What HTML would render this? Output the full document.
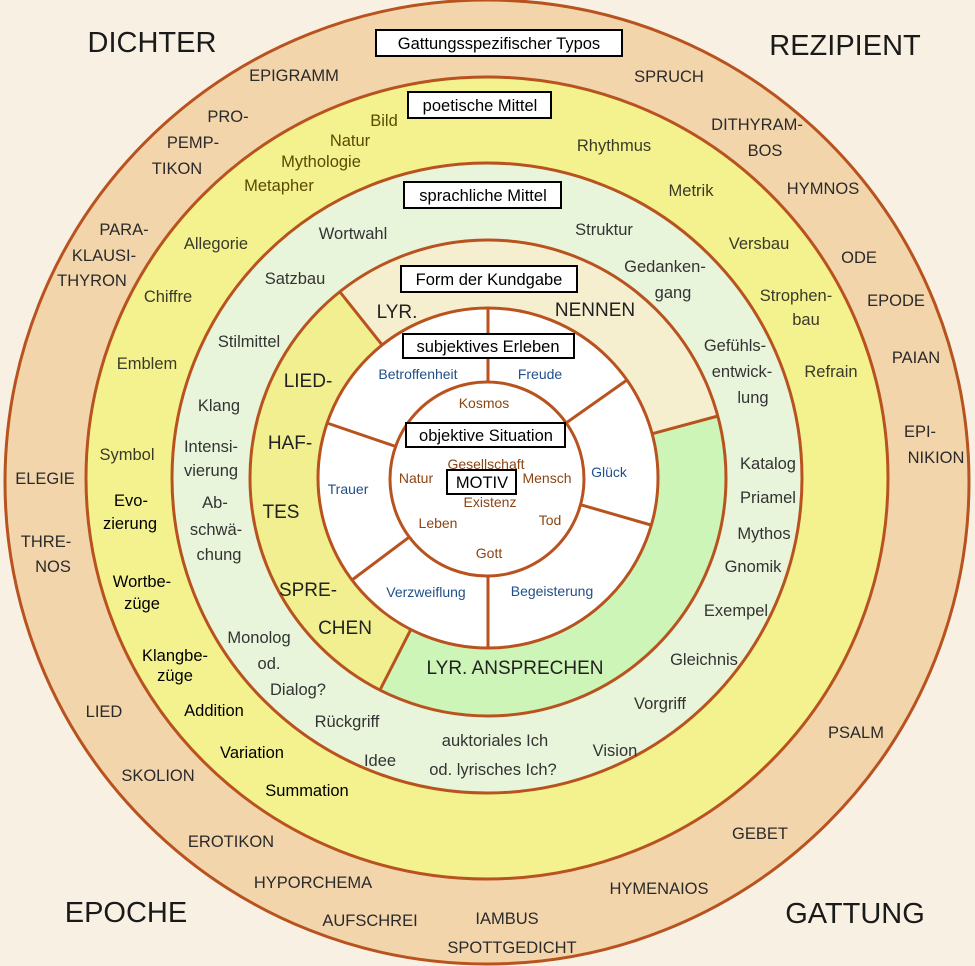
<!DOCTYPE html>
<html><head><meta charset="utf-8"><style>
html,body{margin:0;padding:0;background:#f7f0e3}
svg{display:block}
text{font-family:"Liberation Sans",sans-serif;text-anchor:middle}
.o{font-size:16.5px;fill:#2a2a2a}
.c{font-size:29px;fill:#1a1a1a}
.y{font-size:16.5px;fill:#3a3a2a}
.ol{font-size:16.5px;fill:#5a4a00}
.b{font-size:16.5px;fill:#000}
.g{font-size:16.5px;fill:#333}
.f{font-size:19px;fill:#222}
.bl{font-size:14px;fill:#1f4f8a}
.br{font-size:14px;fill:#8b4513}
.lb{font-size:16.5px;fill:#000}
</style></head><body>
<svg width="975" height="966" viewBox="0 0 975 966" xmlns="http://www.w3.org/2000/svg">
<rect width="975" height="966" fill="#f7f0e3"/>
<circle cx="487" cy="482" r="482" fill="#f3d5ac" stroke="#b8531f" stroke-width="3"/>
<circle cx="487" cy="478" r="401" fill="#f4f28e" stroke="#b8531f" stroke-width="3"/>
<circle cx="487" cy="478" r="315" fill="#e9f5da" stroke="#b8531f" stroke-width="3"/>
<path d="M488 478 L718 416 A238 238 0 0 0 340 292 Z" fill="#f6efcf"/>
<path d="M488 478 L340 292 A238 238 0 0 0 380 690 Z" fill="#f2ef90"/>
<path d="M488 478 L380 690 A238 238 0 0 0 718 416 Z" fill="#cdf5b8"/>
<g stroke="#b8531f" stroke-width="3">
<line x1="488" y1="478" x2="718" y2="416"/><line x1="488" y1="478" x2="340" y2="292"/><line x1="488" y1="478" x2="380" y2="690"/>
</g>
<circle cx="488" cy="478" r="238" fill="none" stroke="#b8531f" stroke-width="3"/>
<circle cx="488" cy="478" r="170" fill="#fff" stroke="#b8531f" stroke-width="3"/>
<g stroke="#b8531f" stroke-width="3">
<line x1="488" y1="478" x2="488" y2="308"/><line x1="488" y1="478" x2="627" y2="380"/><line x1="488" y1="478" x2="651" y2="525"/>
<line x1="488" y1="478" x2="488" y2="648"/><line x1="488" y1="478" x2="352" y2="580"/><line x1="488" y1="478" x2="327" y2="423"/>
</g>
<circle cx="487" cy="479" r="97" fill="#fff" stroke="#b8531f" stroke-width="3"/>

<text class="c" x="152" y="52">DICHTER</text>
<text class="c" x="845" y="55">REZIPIENT</text>
<text class="c" x="126" y="922">EPOCHE</text>
<text class="c" x="855" y="923">GATTUNG</text>

<rect x="376" y="30" width="246" height="26" fill="#fff" stroke="#000" stroke-width="2"/>
<text class="lb" x="499" y="49">Gattungsspezifischer Typos</text>
<rect x="408" y="92" width="143" height="26" fill="#fff" stroke="#000" stroke-width="2"/>
<text class="lb" x="480" y="111">poetische Mittel</text>
<rect x="404" y="182" width="157" height="26" fill="#fff" stroke="#000" stroke-width="2"/>
<text class="lb" x="483" y="201">sprachliche Mittel</text>
<rect x="401" y="266" width="176" height="26" fill="#fff" stroke="#000" stroke-width="2"/>
<text class="lb" x="489" y="285">Form der Kundgabe</text>
<rect x="403" y="334" width="171" height="24" fill="#fff" stroke="#000" stroke-width="2"/>
<text class="lb" x="488" y="352">subjektives Erleben</text>
<rect x="406" y="423" width="159" height="24" fill="#fff" stroke="#000" stroke-width="2"/>
<text class="lb" x="486" y="441">objektive Situation</text>
<rect x="447" y="470" width="69" height="24" fill="#fff" stroke="#000" stroke-width="2"/>
<text class="lb" x="482" y="488">MOTIV</text>

<g class="o">
<text x="294" y="81">EPIGRAMM</text><text x="669" y="82">SPRUCH</text>
<text x="228" y="122">PRO-</text><text x="193" y="148">PEMP-</text><text x="177" y="174">TIKON</text>
<text x="757" y="130">DITHYRAM-</text><text x="765" y="156">BOS</text>
<text x="823" y="194">HYMNOS</text><text x="859" y="263">ODE</text><text x="896" y="306">EPODE</text>
<text x="916" y="363">PAIAN</text><text x="920" y="437">EPI-</text><text x="936" y="463">NIKION</text>
<text x="124" y="235">PARA-</text><text x="104" y="261">KLAUSI-</text><text x="92" y="286">THYRON</text>
<text x="45" y="484">ELEGIE</text><text x="46" y="547">THRE-</text><text x="53" y="572">NOS</text>
<text x="104" y="717">LIED</text><text x="158" y="781">SKOLION</text><text x="231" y="847">EROTIKON</text>
<text x="313" y="888">HYPORCHEMA</text><text x="370" y="926">AUFSCHREI</text><text x="507" y="924">IAMBUS</text>
<text x="512" y="953">SPOTTGEDICHT</text><text x="659" y="894">HYMENAIOS</text><text x="760" y="839">GEBET</text>
<text x="856" y="738">PSALM</text>
</g>
<g class="ol">
<text x="384" y="126">Bild</text><text x="350" y="146">Natur</text><text x="321" y="167">Mythologie</text><text x="279" y="191">Metapher</text>
</g>
<g class="y">
<text x="614" y="151">Rhythmus</text><text x="691" y="196">Metrik</text><text x="759" y="249">Versbau</text>
<text x="796" y="301">Strophen-</text><text x="806" y="325">bau</text><text x="831" y="377">Refrain</text>
<text x="216" y="249">Allegorie</text><text x="168" y="302">Chiffre</text><text x="147" y="369">Emblem</text><text x="127" y="460">Symbol</text>
</g>
<g class="b">
<text x="131" y="506">Evo-</text><text x="130" y="529">zierung</text>
<text x="142" y="587">Wortbe-</text><text x="142" y="609">züge</text>
<text x="175" y="661">Klangbe-</text><text x="175" y="681">züge</text>
<text x="214" y="716">Addition</text><text x="252" y="758">Variation</text><text x="307" y="796">Summation</text>
</g>
<g class="g">
<text x="353" y="239">Wortwahl</text><text x="604" y="235">Struktur</text>
<text x="665" y="272">Gedanken-</text><text x="673" y="298">gang</text>
<text x="295" y="284">Satzbau</text><text x="249" y="347">Stilmittel</text>
<text x="735" y="351">Gefühls-</text><text x="742" y="377">entwick-</text><text x="753" y="403">lung</text>
<text x="219" y="411">Klang</text><text x="211" y="452">Intensi-</text><text x="211" y="476">vierung</text>
<text x="215" y="508">Ab-</text><text x="216" y="535">schwä-</text><text x="219" y="560">chung</text>
<text x="768" y="469">Katalog</text><text x="768" y="503">Priamel</text><text x="764" y="539">Mythos</text>
<text x="753" y="572">Gnomik</text><text x="736" y="616">Exempel</text>
<text x="259" y="643">Monolog</text><text x="269" y="669">od.</text><text x="298" y="695">Dialog?</text>
<text x="704" y="665">Gleichnis</text><text x="660" y="709">Vorgriff</text>
<text x="347" y="727">Rückgriff</text><text x="380" y="766">Idee</text>
<text x="495" y="746">auktoriales Ich</text><text x="493" y="775">od. lyrisches Ich?</text>
<text x="615" y="756">Vision</text>
</g>
<g class="f">
<text x="397" y="318">LYR.</text><text x="595" y="316">NENNEN</text>
<text x="308" y="387">LIED-</text><text x="290" y="449">HAF-</text><text x="281" y="518">TES</text>
<text x="308" y="596">SPRE-</text><text x="345" y="634">CHEN</text>
<text x="515" y="674">LYR. ANSPRECHEN</text>
</g>
<g class="bl">
<text x="418" y="379">Betroffenheit</text><text x="540" y="379">Freude</text><text x="609" y="477">Glück</text>
<text x="348" y="494">Trauer</text><text x="426" y="597">Verzweiflung</text><text x="552" y="596">Begeisterung</text>
</g>
<g class="br">
<text x="484" y="408">Kosmos</text><text x="486" y="469">Gesellschaft</text><text x="416" y="483">Natur</text>
<text x="547" y="483">Mensch</text><text x="490" y="507">Existenz</text><text x="438" y="528">Leben</text>
<text x="550" y="525">Tod</text><text x="489" y="558">Gott</text>
</g>
</svg>
</body></html>
